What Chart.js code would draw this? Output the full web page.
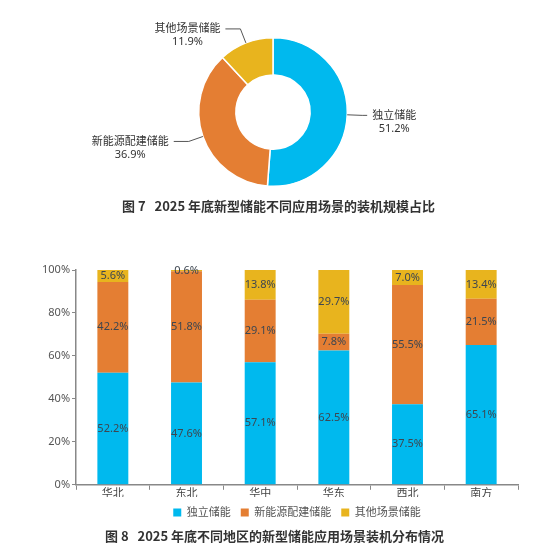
<!DOCTYPE html>
<html lang="zh">

<head>
    <meta charset="UTF-8">
    <title>新型储能装机</title>
    <script src="https://cdn.jsdelivr.net/npm/chart.js"></script>
    <style>
        body { margin: 0; background: #fff; }
        #wrap { position: relative; width: 560px; height: 560px; overflow: hidden;
            font-family: 'Noto Sans', 'Noto Sans CJK SC', sans-serif; }
        #pieBox { position: absolute; left: 0; top: 0; width: 560px; height: 220px; }
        #barBox { position: absolute; left: 0; top: 255px; width: 560px; height: 273px; }
        .title { position: absolute; color: #333; font-weight: bold; font-size: 13px;
            font-family: 'Noto Sans CJK SC', sans-serif; white-space: pre; }
    </style>
</head>

<body>
    <div id="wrap">
        <div id="pieBox"><canvas id="pieChart"></canvas></div>
        <div class="title" style="left:122px; top:196px;">图 7   2025 年底新型储能不同应用场景的装机规模占比</div>
        <div id="barBox"><canvas id="barChart"></canvas></div>
        <div class="title" style="left:105px; top:526px;">图 8   2025 年底不同地区的新型储能应用场景装机分布情况</div>
    </div>
    <script>
        // 图7 数据
        const sceneNames = ['独立储能', '新能源配建储能', '其他场景储能'];
        const sceneShare = [51.2, 36.9, 11.9];

        // 图8 数据
        const regions = ['华北', '东北', '华中', '华东', '西北', '南方'];
        const duliShare = [52.2, 47.6, 57.1, 62.5, 37.5, 65.1];      // 独立储能
        const peijianShare = [42.2, 51.8, 29.1, 7.8, 55.5, 21.5];    // 新能源配建储能
        const qitaShare = [5.6, 0.6, 13.8, 29.7, 7.0, 13.4];         // 其他场景储能

        const colors = ['#00B9EE', '#E47E33', '#E8B41E'];
        const cjk = "'Noto Sans', 'Noto Sans CJK SC', sans-serif";

        // 饼图引线和标签
        const pieLabelPlugin = {
            id: 'pieLabels',
            afterDraw(chart) {
                const c = chart.ctx;
                const meta = chart.getDatasetMeta(0);
                c.save();
                c.strokeStyle = '#555';
                c.lineWidth = 1;
                c.font = '11px ' + cjk;
                c.fillStyle = '#333';
                c.textBaseline = 'middle';
                meta.data.forEach(function (arc, i) {
                    const mid = (arc.startAngle + arc.endAngle) / 2;
                    const dx = Math.cos(mid), dy = Math.sin(mid);
                    const r = arc.outerRadius;
                    const px = arc.x + r * dx, py = arc.y + r * dy;
                    const ex = arc.x + (r + 15) * dx, ey = arc.y + (r + 15) * dy;
                    const side = dx > 0 ? 1 : -1;
                    const hx = ex + side * (side > 0 ? 5 : 15);
                    c.beginPath();
                    c.moveTo(px, py);
                    c.lineTo(ex, ey);
                    c.lineTo(hx, ey);
                    c.stroke();
                    const name = chart.data.labels[i];
                    const pct = chart.data.datasets[0].data[i].toFixed(1) + '%';
                    const w = Math.max(c.measureText(name).width, c.measureText(pct).width);
                    const cx = hx + side * (5 + w / 2);
                    c.textAlign = 'center';
                    c.fillText(name, cx, ey);
                    c.fillText(pct, cx, ey + 13);
                });
                c.restore();
            }
        };

        // 柱状图数值标签
        const barLabelPlugin = {
            id: 'barLabels',
            afterDatasetsDraw(chart) {
                const c = chart.ctx;
                c.save();
                c.font = '11px ' + cjk;
                c.fillStyle = '#3d4650';
                c.textAlign = 'center';
                c.textBaseline = 'middle';
                chart.data.datasets.forEach(function (ds, di) {
                    chart.getDatasetMeta(di).data.forEach(function (bar, j) {
                        c.fillText(ds.data[j].toFixed(1) + '%', bar.x, (bar.y + bar.base) / 2);
                    });
                });
                c.restore();
            }
        };

        const ctx = document.getElementById('pieChart');
        const pieChart = new Chart(ctx, {
            type: 'doughnut',
            data: {
                labels: sceneNames,
                datasets: [{
                    data: sceneShare,
                    backgroundColor: colors,
                    borderColor: '#fff',
                    borderWidth: 1.5
                }]
            },
            options: {
                responsive: true,
                maintainAspectRatio: false,
                animation: false,
                cutout: '50%',
                layout: { padding: { left: 198, right: 212, top: 37, bottom: 33 } },
                plugins: { legend: { display: false }, tooltip: { enabled: false } }
            },
            plugins: [pieLabelPlugin]
        });

        const cty = document.getElementById('barChart');
        const barChart = new Chart(cty, {
            type: 'bar',
            data: {
                labels: regions,
                datasets: [
                    { label: sceneNames[0], data: duliShare, backgroundColor: colors[0] },
                    { label: sceneNames[1], data: peijianShare, backgroundColor: colors[1] },
                    { label: sceneNames[2], data: qitaShare, backgroundColor: colors[2] }
                ]
            },
            options: {
                responsive: true,
                maintainAspectRatio: false,
                animation: false,
                layout: { padding: { left: 40, right: 42, top: 15, bottom: 0 } },
                datasets: { bar: { categoryPercentage: 1, barPercentage: 0.42 } },
                scales: {
                    x: {
                        stacked: true,
                        grid: { drawOnChartArea: false, color: '#888', tickLength: 5, offset: true },
                        border: { color: '#888', width: 1.5 },
                        ticks: { color: '#444', font: { size: 11, family: cjk }, padding: -3 }
                    },
                    y: {
                        stacked: true,
                        min: 0,
                        max: 100,
                        grid: { drawOnChartArea: false, color: '#888', tickLength: 4 },
                        border: { color: '#888', width: 1.5 },
                        ticks: {
                            stepSize: 20,
                            color: '#555',
                            padding: 2,
                            font: { size: 11, family: cjk },
                            callback: function (v) { return v + '%'; }
                        }
                    }
                },
                plugins: {
                    tooltip: { enabled: false },
                    legend: {
                        position: 'bottom',
                        fullSize: false,
                        labels: {
                            boxWidth: 8,
                            boxHeight: 8,
                            padding: 10,
                            color: '#555',
                            font: { size: 11, family: cjk }
                        }
                    }
                }
            },
            plugins: [barLabelPlugin]
        });
    </script>
</body>

</html>
